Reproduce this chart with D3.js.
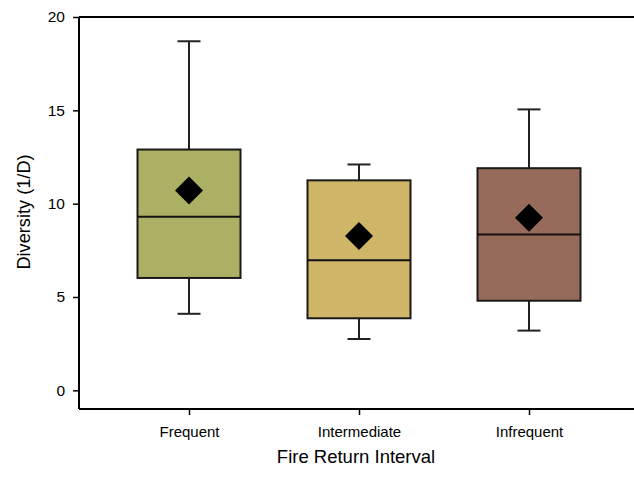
<!DOCTYPE html>
<html>
<head>
<meta charset="utf-8">
<script src="https://cdn.jsdelivr.net/npm/d3@7"></script>
<style>
  html, body { margin: 0; padding: 0; background: #fff; }
  svg { display: block; font-family: "Liberation Sans", Arial, sans-serif; }
</style>
</head>
<body>
<svg id="chart" width="634" height="477"></svg>
<script>
// Fire return interval categories and box statistics for diversity (1/D)
const categories = ["Frequent", "Intermediate", "Infrequent"];
const whiskerLow = [4.1, 2.75, 3.2];
const q1 = [6.02, 3.86, 4.8];
const median = [9.3, 6.97, 8.35];
const q3 = [12.9, 11.25, 11.9];
const whiskerHigh = [18.7, 12.1, 15.05];
const mean = [10.7, 8.27, 9.25];
const fills = ["#abb064", "#cfb568", "#976b5b"];
const yTicks = [0, 5, 10, 15, 20];

const svg = d3.select("#chart");
const plotLeft = 79, plotRight = 634, plotTop = 17, plotBottom = 409;

const x = d3.scalePoint().domain(categories).range([189, 529]);
const y = d3.scaleLinear().domain([-1, 20]).range([plotBottom, plotTop]);

const boxW = 103, capW = 23, diamond = 14;

// frame line along the top
svg.append("line")
  .attr("x1", plotLeft).attr("x2", plotRight)
  .attr("y1", plotTop).attr("y2", plotTop)
  .attr("stroke", "#000").attr("stroke-width", 2);

// y axis
const yAxis = svg.append("g")
  .attr("transform", `translate(${plotLeft},0)`)
  .call(d3.axisLeft(y).tickValues(yTicks).tickSize(6).tickPadding(8));
yAxis.select(".domain").attr("stroke", "#000").attr("stroke-width", 2)
  .attr("d", `M0,${plotBottom}V${plotTop}`);
yAxis.selectAll(".tick line").attr("stroke", "#000").attr("stroke-width", 1.5);
yAxis.selectAll(".tick text").attr("font-size", 15.5).attr("fill", "#000")
  .attr("font-family", "Liberation Sans, Arial, sans-serif");

// x axis
const xAxis = svg.append("g")
  .attr("transform", `translate(0,${plotBottom})`)
  .call(d3.axisBottom(x).tickSize(6).tickPadding(11));
xAxis.select(".domain").attr("stroke", "#000").attr("stroke-width", 2)
  .attr("d", `M${plotLeft},0H${plotRight}`);
xAxis.selectAll(".tick line").attr("stroke", "#000").attr("stroke-width", 1.5);
xAxis.selectAll(".tick text").attr("font-size", 15).attr("fill", "#000")
  .attr("font-family", "Liberation Sans, Arial, sans-serif");

// axis titles
svg.append("text")
  .attr("x", 356).attr("y", 463)
  .attr("text-anchor", "middle")
  .attr("font-size", 18.5)
  .text("Fire Return Interval");

svg.append("text")
  .attr("transform", `translate(30,212) rotate(-90)`)
  .attr("text-anchor", "middle")
  .attr("font-size", 18.2)
  .text("Diversity (1/D)");

// box plots
const g = svg.append("g");
categories.forEach((c, i) => {
  const cx = x(c);
  const grp = g.append("g");
  // whiskers
  grp.append("line").attr("x1", cx).attr("x2", cx)
    .attr("y1", y(whiskerHigh[i])).attr("y2", y(q3[i]))
    .attr("stroke", "#222").attr("stroke-width", 2);
  grp.append("line").attr("x1", cx).attr("x2", cx)
    .attr("y1", y(q1[i])).attr("y2", y(whiskerLow[i]))
    .attr("stroke", "#222").attr("stroke-width", 2);
  // caps
  [whiskerHigh[i], whiskerLow[i]].forEach(v => {
    grp.append("line")
      .attr("x1", cx - capW / 2).attr("x2", cx + capW / 2)
      .attr("y1", y(v)).attr("y2", y(v))
      .attr("stroke", "#222").attr("stroke-width", 2);
  });
  // box
  grp.append("rect")
    .attr("x", cx - boxW / 2).attr("width", boxW)
    .attr("y", y(q3[i])).attr("height", y(q1[i]) - y(q3[i]))
    .attr("fill", fills[i]).attr("stroke", "#1a1a1a").attr("stroke-width", 2);
  // median
  grp.append("line")
    .attr("x1", cx - boxW / 2).attr("x2", cx + boxW / 2)
    .attr("y1", y(median[i])).attr("y2", y(median[i]))
    .attr("stroke", "#111").attr("stroke-width", 2);
  // mean marker
  const my = y(mean[i]);
  grp.append("path")
    .attr("d", `M${cx},${my - diamond}L${cx + diamond},${my}L${cx},${my + diamond}L${cx - diamond},${my}Z`)
    .attr("fill", "#000");
});
</script>
</body>
</html>
